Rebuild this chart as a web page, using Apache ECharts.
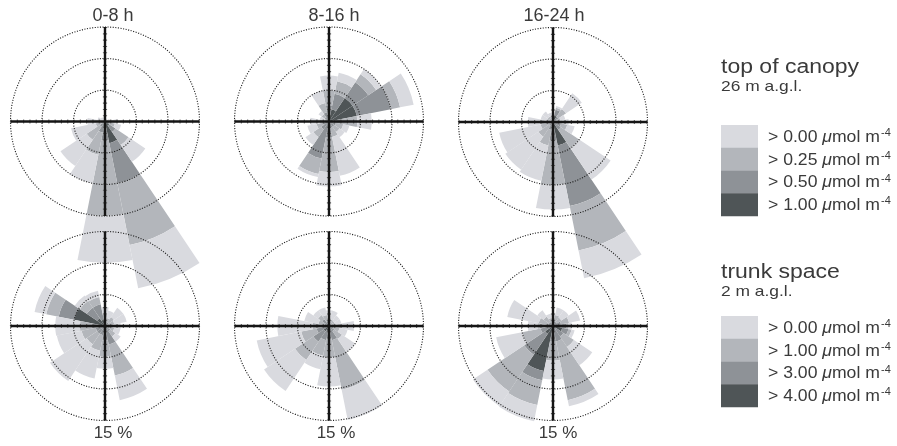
<!DOCTYPE html>
<html>
<head>
<meta charset="utf-8">
<script src="https://cdn.jsdelivr.net/npm/echarts@6/dist/echarts.min.js"></script>
<style>
  html, body { margin: 0; padding: 0; background: #fff; }
  #chart { width: 897px; height: 446px; }
</style>
</head>
<body>
<div id="chart"></div>
<script>
// Wind direction sectors, clockwise from north
const directions = ['N','NNE','NE','ENE','E','ESE','SE','SSE','S','SSW','SW','WSW','W','WNW','NW','NNW'];
const periods = ['0-8 h', '8-16 h', '16-24 h'];
const canopyThresholds = ['0.00', '0.25', '0.50', '1.00'];
const trunkThresholds = ['0.00', '1.00', '3.00', '4.00'];
const ringValues = [5, 10, 15];      // dotted frequency rings (%)
const ringLabel = '15 %';

// Frequency (%) per class, rows from the highest class (innermost) to the lowest (outermost)
const canopy0to8 = [
  [0, 0, 0, 0, 0, 0.3, 0.8, 3.5, 0.5, 0.3, 0.2, 0, 0, 0, 0, 0],
  [0, 0, 0, 0, 0.2, 0.5, 1.2, 6.5, 2.5, 1.5, 0.8, 0.3, 0.2, 0, 0, 0],
  [0.2, 0.2, 0.2, 0.3, 0.5, 0.8, 2.5, 10, 12, 3.6, 2.5, 1.2, 0.8, 0.4, 0.3, 0.3],
  [0.4, 0.3, 0.3, 0.5, 1.3, 1.0, 3.2, 7, 7.4, 4.6, 5, 4, 1.8, 0.8, 0.5, 0.4]
];
const canopy8to16 = [
  [1, 2, 4.5, 4.5, 0.5, 0.3, 0.3, 0.2, 0.5, 0.5, 0.3, 0.2, 0, 0, 0.3, 0.5],
  [1.5, 2.5, 3, 5.5, 1.5, 0.8, 0.7, 0.8, 2, 5.5, 1.2, 0.8, 0.5, 0.3, 0.5, 1],
  [2.5, 2, 1.5, 1.5, 2.5, 1.2, 1, 1.5, 5.5, 2.5, 1.5, 1, 1, 0.5, 0.6, 1.5],
  [2.3, 1.4, 1, 2.2, 2.3, 1, 1, 6.3, 2.3, 0.5, 1.5, 1.5, 1.5, 0.7, 0.6, 2]
];
const canopy16to24 = [
  [0.2, 1.0, 0.3, 0.2, 0.3, 0.5, 0.3, 3.8, 1, 0.3, 0.2, 0.1, 0.2, 0.1, 0.1, 0.1],
  [0.3, 1, 0.7, 0.4, 0.5, 0.8, 1.2, 9.8, 2, 1, 0.6, 0.4, 0.5, 0.3, 0.3, 0.3],
  [0.5, 0.3, 1.5, 0.6, 0.7, 1, 3.5, 7.2, 7, 2.5, 2, 1.5, 1.3, 0.6, 0.6, 0.5],
  [0.5, 0.3, 3, 0.8, 1, 1.2, 6, 4.5, 3.9, 5.7, 6.3, 6.7, 2, 1, 1, 0.6]
];
const trunk0to8 = [
  [0.3, 0.2, 0.2, 0.2, 0.2, 0.3, 0.5, 0.5, 0.8, 0.5, 0.5, 0.5, 0.5, 5, 1.5, 1],
  [0.5, 0.3, 0.5, 0.3, 0.3, 0.5, 0.5, 2.5, 1.5, 1, 1, 1, 1.5, 2.5, 2, 2.5],
  [1, 0.8, 1, 1, 0.8, 0.7, 1, 5, 2.5, 2.5, 2, 2.3, 2, 2, 1.3, 1.2],
  [1.2, 1.2, 1.8, 2, 1.2, 1, 1, 4, 2, 4.5, 7, 4, 3.9, 1.9, 1, 1]
];
const trunk8to16 = [
  [0.2, 0.1, 0.1, 0.1, 0.1, 0.2, 0.3, 0.3, 0.5, 0.8, 1, 0.5, 0.3, 0.2, 0.5, 0.3],
  [0.3, 0.3, 0.3, 0.3, 0.5, 0.5, 0.7, 2, 1.5, 1.5, 2, 1.5, 0.8, 0.5, 0.8, 0.5],
  [0.8, 0.7, 0.6, 0.6, 1.2, 1, 1.5, 8, 3, 2.5, 3.5, 2.5, 1.5, 1, 0.8, 1],
  [1.2, 1.4, 1, 1, 2.2, 1.3, 2.5, 4.9, 4.6, 2.2, 5.9, 7.2, 5.6, 2.3, 0.9, 1.2]
];
const trunk16to24 = [
  [0.3, 0.3, 0.3, 0.5, 1, 1.5, 0.5, 0.5, 1, 7.3, 1.5, 0.5, 0.5, 0.3, 0.3, 0.3],
  [0.3, 0.5, 0.5, 0.8, 0.8, 1, 1.5, 2, 1.5, 1.5, 4, 1.5, 0.8, 0.5, 0.5, 0.3],
  [0.7, 1, 0.8, 1.3, 0.7, 0.5, 2, 9.5, 3, 4, 7, 3, 1.2, 1.5, 1, 0.7],
  [0.7, 1.2, 1.4, 1.8, 0.5, 0.5, 3.5, 1, 3, 2.6, 2.8, 4.2, 1.5, 5.1, 1.2, 0.7]
];

const panels = [canopy0to8, canopy8to16, canopy16to24, trunk0to8, trunk8to16, trunk16to24];

// Greys from highest class to lowest
const shades = ['#4f5557', '#8e9297', '#b3b6bb', '#d9dadf'];
const FONT = "'Liberation Sans', Arial, Helvetica, sans-serif";
const TEXT = '#3a3a3a';

const centers = [[105, 121.5], [329, 121.5], [553, 122], [105, 326], [329, 326], [553, 326]];
const R = 94.5;
const rMax = ringValues[ringValues.length - 1];
const N = panels.length;

const polar = [], angleAxis = [], radiusAxis = [], series = [];
const hidden = { axisLine: { show: false }, axisTick: { show: false }, axisLabel: { show: false } };

// 0..N-1: bars; N..2N-1: tick pattern on the cross; 2N..3N-1: solid cross + dotted rings
for (let layer = 0; layer < 3; layer++) {
  for (let p = 0; p < N; p++) {
    const idx = layer * N + p;
    polar.push({ center: centers[p], radius: R });
    if (layer === 0) {
      angleAxis.push(Object.assign({
        polarIndex: idx, type: 'category', data: directions, boundaryGap: false,
        startAngle: 90, clockwise: true, z: 1, splitLine: { show: false }
      }, hidden));
      radiusAxis.push(Object.assign({
        polarIndex: idx, min: 0, max: rMax, z: 1, splitLine: { show: false }
      }, hidden));
    } else if (layer === 1) {
      angleAxis.push(Object.assign({
        polarIndex: idx, type: 'value', min: 0, max: 360, interval: 90,
        startAngle: 90, clockwise: true, z: 9,
        splitLine: { show: true, lineStyle: { color: '#666666', width: 4.2, type: [1.1, R / rMax - 1.1] } }
      }, hidden));
      radiusAxis.push(Object.assign({
        polarIndex: idx, min: 0, max: rMax, z: 9, splitLine: { show: false }
      }, hidden));
    } else {
      angleAxis.push(Object.assign({
        polarIndex: idx, type: 'value', min: 0, max: 360, interval: 90,
        startAngle: 90, clockwise: true, z: 10,
        splitLine: { show: true, lineStyle: { color: '#151515', width: 2.4 } }
      }, hidden));
      radiusAxis.push(Object.assign({
        polarIndex: idx, min: 0, max: rMax, interval: ringValues[0], z: 8,
        splitLine: { show: true, lineStyle: { color: '#1e1e1e', width: 1.1, type: [1.1, 1.5] } }
      }, hidden));
    }
  }
}

panels.forEach((rows, p) => {
  rows.forEach((vals, k) => {
    series.push({
      type: 'bar',
      coordinateSystem: 'polar',
      polarIndex: p,
      stack: 'rose' + p,
      data: vals,
      barCategoryGap: '0%',
      clip: false,
      silent: true,
      z: 2,
      itemStyle: { color: shades[k] }
    });
  });
});

// Text: period titles, ring scale labels, legends
const graphic = [];
const titleX = [113, 334, 554];
periods.forEach((t, i) => {
  graphic.push({ type: 'text', x: titleX[i], y: 16, style: { text: t, fontFamily: FONT, fontSize: 18, fill: TEXT, align: 'center', verticalAlign: 'middle' } });
});
const scaleX = [113, 336, 558];
scaleX.forEach(x => {
  graphic.push({ type: 'text', x: x, y: 433, style: { text: ringLabel, fontFamily: FONT, fontSize: 17, fill: TEXT, align: 'center', verticalAlign: 'middle' } });
});

function legendBlock(title, sub, thresholds, titleY, swatchTop) {
  graphic.push({ type: 'text', x: 721, y: titleY, scaleX: 1.15, style: { text: title, fontFamily: FONT, fontSize: 20, fill: TEXT, align: 'left', verticalAlign: 'alphabetic' } });
  graphic.push({ type: 'text', x: 721, y: titleY + 22.5, scaleX: 1.16, style: { text: sub, fontFamily: FONT, fontSize: 15, fill: TEXT, align: 'left', verticalAlign: 'alphabetic' } });
  const h = 22.75;
  thresholds.forEach((th, i) => {
    graphic.push({ type: 'rect', shape: { x: 721, y: swatchTop + i * h, width: 37, height: h + 0.3 }, style: { fill: shades[3 - i] } });
    graphic.push({
      type: 'text', x: 768, y: swatchTop + i * h + h / 2 + 1, scaleX: 1.1,
      style: {
        text: '> ' + th + ' {mu|\u03bc}mol m{sup|-4}',
        fontFamily: FONT, fontSize: 16, fill: TEXT, align: 'left', verticalAlign: 'middle',
        rich: {
          mu: { fontFamily: FONT, fontSize: 16, fontStyle: 'italic', fill: TEXT },
          sup: { fontFamily: FONT, fontSize: 10, fill: TEXT, verticalAlign: 'top', padding: [0, 0, 8, 1] }
        }
      }
    });
  });
}
legendBlock('top of canopy', '26 m a.g.l.', canopyThresholds, 57, 125);
legendBlock('trunk space', '2 m a.g.l.', trunkThresholds, 262, 316);

const chart = echarts.init(document.getElementById('chart'), null, { renderer: 'canvas' });
chart.setOption({
  animation: false,
  backgroundColor: '#ffffff',
  polar, angleAxis, radiusAxis, series, graphic
});
</script>
</body>
</html>
